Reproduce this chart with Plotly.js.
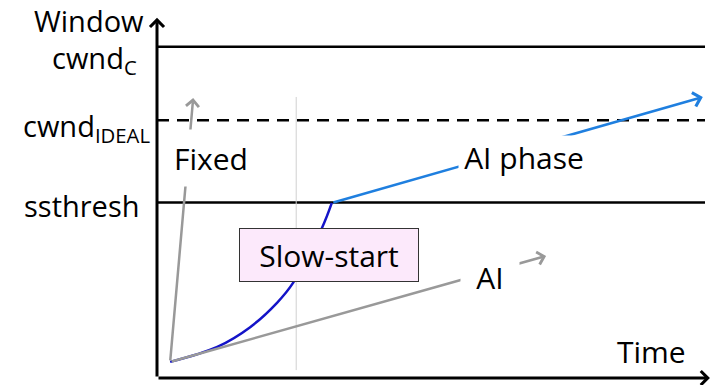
<!DOCTYPE html>
<html>
<head>
<meta charset="utf-8">
<script src="https://cdn.plot.ly/plotly-3.0.1.min.js"></script>
<style>
  html, body { margin:0; padding:0; background:#fff; }
  #chart { width:711px; height:385px; }
</style>
</head>
<body>
<div id="chart"></div>
<script>
// ---------- Data ----------
// window levels (same units as the window axis, 0..100)
const levelNames = ['ssthresh', 'cwnd<sub>IDEAL</sub>', 'cwnd<sub>C</sub>'];
const levelValues = [49, 72, 92.5];
const levelDash = ['solid', '12px,8px', 'solid'];

// slow-start curve
const ssTime = [2.4, 11, 17, 21.9, 24.8, 30.1, 31.9];
const ssWindow = [4.5, 8.7, 14.2, 21, 26.5, 41.9, 48.9];

// AI phase after ssthresh
const aiPhaseTime = [31.9, 99.6];
const aiPhaseWindow = [48.9, 78.5];

// gray reference arrows
const fixedTime = [2.4, 6.6];
const fixedWindow = [4.5, 78.2];
const aiTime = [2.4, 71];
const aiWindow = [4.5, 34.1];

// thin marker line
const markTime = 25.4;
const markWindow = [2.2, 78.5];

const FONT = 'Open Sans, Noto Sans, sans-serif';

// ---------- Traces ----------
const traces = [{
    x: ssTime, y: ssWindow, type: 'scatter', mode: 'lines',
    line: {color: '#1414c8', width: 2.5, shape: 'spline'},
    hoverinfo: 'skip', showlegend: false
}];

// ---------- Shapes ----------
const shapes = levelValues.map((v, i) => ({
    type: 'line', xref: 'x', yref: 'y', x0: 0, x1: 100, y0: v, y1: v,
    line: {color: '#000', width: 2.5, dash: levelDash[i]}, layer: 'below'
}));
shapes.push({
    type: 'line', xref: 'x', yref: 'y', x0: markTime, x1: markTime,
    y0: markWindow[0], y1: markWindow[1],
    line: {color: '#d0d0d0', width: 1}, layer: 'below'
});

// ---------- Annotations ----------
function arrow(xs, ys, color, width, size){
    return {
        xref: 'x', yref: 'y', axref: 'x', ayref: 'y',
        x: xs[1], y: ys[1], ax: xs[0], ay: ys[0],
        text: '', showarrow: true, arrowhead: 4, arrowsize: size,
        arrowwidth: width, arrowcolor: color, standoff: 0, startstandoff: 0,
        font: {size: 1}
    };
}

const annotations = [
    arrow([0, 100.9], [0, 0], '#000', 3, 0.9),
    arrow([0, 0], [0, 100.6], '#000', 3, 0.9),
    arrow(aiPhaseTime, aiPhaseWindow, '#1f7fdf', 2.5, 1.1),
    arrow(fixedTime, fixedWindow, '#999999', 2.5, 1),
    arrow(aiTime, aiWindow, '#999999', 2.5, 1)
];

function label(text, x, y, opts){
    return Object.assign({
        xref: 'x', yref: 'y', x: x, y: y, text: text, showarrow: false,
        font: {family: FONT, size: 30, color: '#000'}
    }, opts || {});
}

// y labels left of the axis
const labelShift = [-15, -5, -18];
const labelYShift = [-3, -7, -13];
levelNames.forEach((n, i) => {
    annotations.push(label(n, 0, levelValues[i], {
        xanchor: 'right', yanchor: 'middle', xshift: labelShift[i], yshift: labelYShift[i],
        font: {family: FONT, size: 29, color: '#000'}
    }));
});
annotations.push(label('Window', 0, 100, {xanchor: 'right', yanchor: 'middle', xshift: -11, yshift: 0,
    font: {family: FONT, size: 29, color: '#000'}}));
annotations.push(label('Time', 90.3, 7.3, {}));

// in-plot labels with white background to break the lines
annotations.push(label('Fixed', 9.85, 61.5, {bgcolor: '#fff', height: 54}));
annotations.push(label('AI phase', 67, 61.5, {bgcolor: '#fff', width: 128}));
annotations.push(label('AI', 60.8, 28.2, {bgcolor: '#fff', width: 56}));
annotations.push(label('Slow-start', 31.4, 34.4, {
    bgcolor: '#fce9fb', bordercolor: '#333', borderwidth: 1, borderpad: 1,
    width: 176, height: 50
}));

// ---------- Layout ----------
const layout = {
    width: 711, height: 385,
    margin: {l: 157, r: 6, t: 20, b: 7},
    paper_bgcolor: '#fff', plot_bgcolor: '#fff',
    showlegend: false,
    xaxis: {range: [0, 100], showgrid: false, zeroline: false, showline: false,
            showticklabels: false, ticks: '', fixedrange: true},
    yaxis: {range: [0, 100], showgrid: false, zeroline: false, showline: false,
            showticklabels: false, ticks: '', fixedrange: true},
    shapes: shapes,
    annotations: annotations
};

Plotly.newPlot('chart', traces, layout, {displayModeBar: false, staticPlot: true});
</script>
</body>
</html>
